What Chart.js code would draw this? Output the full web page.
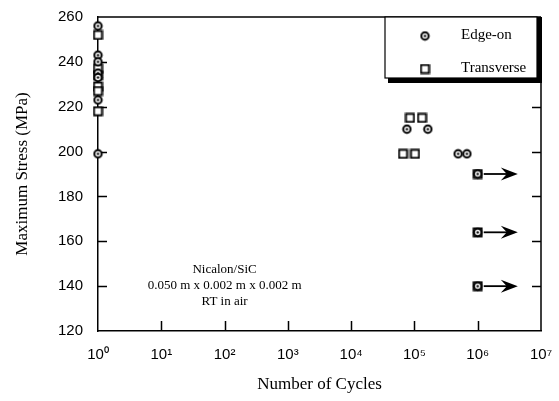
<!DOCTYPE html>
<html><head><meta charset="utf-8">
<script src="https://cdn.jsdelivr.net/npm/chart.js@4"></script>
<style>html,body{margin:0;padding:0;background:#fff}</style>
</head><body>
<canvas id="c" width="559" height="401"></canvas>
<script>
// ---- data ----
const xTickValues = [1, 10, 100, 1000, 1e4, 1e5, 1e6, 1e7];
const xTickLabels = ['10\u2070', '10\u00B9', '10\u00B2', '10\u00B3', '10\u2074', '10\u2075', '10\u2076', '10\u2077'];
const yTickValues = [120, 140, 160, 180, 200, 220, 240, 260];

const edgeCycles = [1, 1, 1, 1, 1, 1, 1, 76000, 163000, 490000, 675000, 1e6, 1e6, 1e6];
const edgeStress = [256, 243, 240, 235, 233, 223, 199, 210, 210, 199, 199, 190, 164, 140];
const transCycles = [1, 1, 1, 1, 1, 1, 85000, 132000, 66000, 102000, 1e6, 1e6, 1e6];
const transStress = [252, 237, 234, 229, 227, 218, 215, 215, 199, 199, 190, 164, 140];

const runoutCycles = [1e6, 1e6, 1e6];
const runoutStress = [190, 164, 140];
const arrowTipCycles = 4.3e6;

const legendLabels = ['Edge-on', 'Transverse'];
const noteLines = ['Nicalon/SiC', '0.050 m x 0.002 m x 0.002 m', 'RT in air'];
const noteAt = { x: 100, y: 147.6 };
const xTitle = 'Number of Cycles';
const yTitle = 'Maximum Stress (MPa)';

// ---- marker images ----
function ringMarker() {
  const c = document.createElement('canvas'); c.width = 11; c.height = 11;
  const g = c.getContext('2d');
  g.beginPath(); g.arc(5.5, 5.5, 3.7, 0, 2 * Math.PI);
  g.fillStyle = '#fff'; g.fill();
  g.lineWidth = 2; g.strokeStyle = '#000'; g.stroke();
  g.beginPath(); g.arc(5.5, 5.5, 1.2, 0, 2 * Math.PI);
  g.fillStyle = '#000'; g.fill();
  return c;
}
function squareMarker() {
  const c = document.createElement('canvas'); c.width = 11; c.height = 11;
  const g = c.getContext('2d');
  g.fillStyle = '#fff'; g.fillRect(1.5, 1.5, 8, 8);
  g.lineWidth = 1.9; g.strokeStyle = '#000'; g.strokeRect(1.5, 1.5, 8, 8);
  return c;
}
const RING = ringMarker();
const SQUARE = squareMarker();

const SERIF = '"Liberation Serif", "DejaVu Serif", serif';
const SANS = '"Liberation Sans", Arial, sans-serif';

const decor = {
  id: 'decor',
  beforeDatasetsDraw(chart) {
    const { ctx, chartArea: a, scales: { x, y } } = chart;
    ctx.save();
    ctx.strokeStyle = '#000';
    ctx.lineWidth = 1.5;
    // top and right frame
    ctx.beginPath();
    ctx.moveTo(a.left, a.top); ctx.lineTo(a.right, a.top);
    ctx.moveTo(a.right, a.top); ctx.lineTo(a.right, a.bottom);
    ctx.stroke();
    // inward ticks
    ctx.beginPath();
    yTickValues.slice(1, -1).forEach(v => {
      const py = Math.round(y.getPixelForValue(v)) + 0.5;
      ctx.moveTo(a.left, py); ctx.lineTo(a.left + 9, py);
      ctx.moveTo(a.right, py); ctx.lineTo(a.right - 9, py);
    });
    xTickValues.slice(1, -1).forEach(v => {
      const px = Math.round(x.getPixelForValue(v)) + 0.5;
      ctx.moveTo(px, a.bottom); ctx.lineTo(px, a.bottom - 10);
    });
    ctx.stroke();
    ctx.restore();
  },
  afterDatasetsDraw(chart) {
    const { ctx, chartArea: a, scales: { x, y } } = chart;
    ctx.save();
    // run-out arrows
    ctx.fillStyle = '#000'; ctx.strokeStyle = '#000'; ctx.lineWidth = 1.8;
    runoutCycles.forEach((c, i) => {
      const x0 = x.getPixelForValue(c) + 6;
      const x1 = x.getPixelForValue(arrowTipCycles);
      const py = y.getPixelForValue(runoutStress[i]);
      ctx.beginPath(); ctx.moveTo(x0, py); ctx.lineTo(x1 - 8, py); ctx.stroke();
      ctx.beginPath();
      ctx.moveTo(x1, py);
      ctx.lineTo(x1 - 17, py - 6.5);
      ctx.lineTo(x1 - 11, py);
      ctx.lineTo(x1 - 17, py + 6.5);
      ctx.closePath(); ctx.fill();
    });
    // annotation
    ctx.font = '13px ' + SERIF;
    ctx.textAlign = 'center'; ctx.textBaseline = 'middle';
    const nx = x.getPixelForValue(noteAt.x), ny = y.getPixelForValue(noteAt.y);
    noteLines.forEach((t, i) => ctx.fillText(t, nx, ny + i * 16));
    // legend box
    const L = a.right - 156, T = a.top, R = a.right - 4, B = a.top + 61;
    ctx.fillStyle = '#fff'; ctx.fillRect(L, T, R - L, B - T);
    ctx.fillStyle = '#000';
    ctx.fillRect(R, T, 5, B - T + 5);
    ctx.fillRect(L + 3, B, R - L + 2, 5);
    ctx.lineWidth = 1.2; ctx.strokeRect(L, T, R - L, B - T);
    ctx.drawImage(RING, L + 40 - 5.5, T + 19 - 5.5);
    ctx.drawImage(SQUARE, L + 40 - 5.5, T + 52 - 5.5);
    ctx.font = '15px ' + SERIF; ctx.textAlign = 'left'; ctx.textBaseline = 'middle';
    ctx.fillText(legendLabels[0], L + 76, T + 18.5);
    ctx.fillText(legendLabels[1], L + 76, T + 51.5);
    ctx.restore();
  }
};

new Chart(document.getElementById('c'), {
  type: 'scatter',
  data: {
    datasets: [
      { label: legendLabels[0], data: edgeCycles.map((c, i) => ({ x: c, y: edgeStress[i] })),
        pointStyle: RING, pointRadius: 4, clip: false },
      { label: legendLabels[1], data: transCycles.map((c, i) => ({ x: c, y: transStress[i] })),
        pointStyle: SQUARE, pointRadius: 4, clip: false }
    ]
  },
  options: {
    responsive: false, animation: false, devicePixelRatio: 1,
    layout: { padding: { top: 17, right: 18, left: 0, bottom: 0 } },
    plugins: { legend: { display: false }, tooltip: { enabled: false } },
    scales: {
      x: {
        type: 'logarithmic', min: 1, max: 1e7,
        afterBuildTicks: s => { s.ticks = xTickValues.map(v => ({ value: v })); },
        afterFit: s => { s.height = 70; s.paddingLeft = 0; s.paddingRight = 0; },
        grid: { display: false, drawTicks: false },
        border: { display: true, color: '#000', width: 1.5 },
        ticks: { autoSkip: false, maxRotation: 0, padding: 15, color: '#000',
          font: { family: SANS, size: 15 },
          callback: v => xTickLabels[xTickValues.indexOf(v)] },
        title: { display: true, text: xTitle, color: '#000', font: { family: SERIF, size: 17 },
          padding: { top: 0, bottom: 6 } }
      },
      y: {
        min: 120, max: 260,
        afterBuildTicks: s => { s.ticks = yTickValues.map(v => ({ value: v })); },
        afterFit: s => { s.width = 98; s.paddingTop = 0; s.paddingBottom = 0; },
        grid: { display: false, drawTicks: false },
        border: { display: true, color: '#000', width: 1.5 },
        ticks: { padding: 15, color: '#000', font: { family: SANS, size: 15 } },
        title: { display: true, text: yTitle, color: '#000', font: { family: SERIF, size: 17 },
          padding: { top: 12, bottom: 0 } }
      }
    }
  },
  plugins: [decor]
});
</script>
</body></html>
